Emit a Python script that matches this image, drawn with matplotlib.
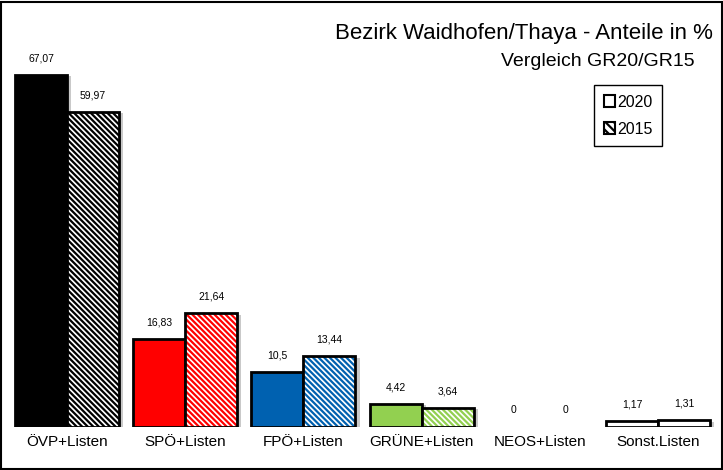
import matplotlib
matplotlib.use('Agg')
import matplotlib.pyplot as plt
import matplotlib.patheffects as pe
from matplotlib.patches import Rectangle, Patch
import numpy as np

plt.rcParams['font.family'] = ['Liberation Sans', 'DejaVu Sans']
plt.rcParams['hatch.linewidth'] = 1.6

# Data
parties = ['ÖVP+Listen', 'SPÖ+Listen', 'FPÖ+Listen', 'GRÜNE+Listen', 'NEOS+Listen', 'Sonst.Listen']
gr20 = [67.07, 16.83, 10.5, 4.42, 0, 1.17]
gr15 = [59.97, 21.64, 13.44, 3.64, 0, 1.31]
labels20 = ['67,07', '16,83', '10,5', '4,42', '0', '1,17']
labels15 = ['59,97', '21,64', '13,44', '3,64', '0', '1,31']
colors = ['#000000', '#ff0000', '#0061b0', '#92d050', '#ffffff', '#ffffff']

W, H = 723, 470
fig = plt.figure(figsize=(W / 100, H / 100), dpi=100)
ax = fig.add_axes([8 / W, 1 - 427 / H, 709 / W, 394 / H])

x = np.arange(len(parties))
width = 0.44
shadow = [pe.SimplePatchShadow(offset=(3, -1), shadow_rgbFace='#888888', alpha=0.45), pe.Normal()]

for i in range(len(parties)):
    lw20 = 2 if gr20[i] > 0 else 0
    lw15 = 2 if gr15[i] > 0 else 0
    # 2020: solid
    ax.bar(x[i] - width / 2, gr20[i], width, color=colors[i], edgecolor='black',
           linewidth=lw20, path_effects=shadow if gr20[i] > 0 else None, zorder=2)
    # 2015: hatched (stripes in party colour on white)
    if gr15[i] > 0:
        ax.bar(x[i] + width / 2, gr15[i], width, color='white', linewidth=0,
               path_effects=shadow, zorder=1.5)
    ax.bar(x[i] + width / 2, gr15[i], width, color='white', edgecolor=colors[i],
           linewidth=0, hatch='\\\\\\\\\\\\', zorder=2)
    ax.bar(x[i] + width / 2, gr15[i], width, fill=False, edgecolor='black',
           linewidth=lw15, zorder=3)
    ax.text(x[i] - width / 2, gr20[i] + 2.2, labels20[i], ha='center', va='bottom', fontsize=7.5)
    ax.text(x[i] + width / 2, gr15[i] + 2.2, labels15[i], ha='center', va='bottom', fontsize=7.5)

ax.set_xlim(-0.5, len(parties) - 0.5)
ax.set_ylim(0, 75)
ax.set_xticks(x)
ax.set_xticklabels(parties, fontsize=11)
ax.tick_params(axis='x', length=0, pad=6)
ax.set_yticks([])
for s in ax.spines.values():
    s.set_visible(False)

fig.text(713 / W, 1 - 33 / H, 'Bezirk Waidhofen/Thaya - Anteile in %', ha='right', va='center', fontsize=16)
fig.text(695 / W, 1 - 61 / H, 'Vergleich GR20/GR15', ha='right', va='center', fontsize=14)

handles = [Patch(facecolor='white', edgecolor='black', linewidth=1.5, label='2020'),
           Patch(facecolor='white', edgecolor='black', linewidth=1.5, hatch='\\\\\\\\', label='2015')]
leg = fig.legend(handles=handles, loc='upper left', bbox_to_anchor=(586 / W, 1 - 77 / H),
                 fontsize=11.5, handlelength=0.7, handleheight=0.7, handletextpad=0.15,
                 labelspacing=0.75, borderpad=0.6, fancybox=False, framealpha=1)
leg.get_frame().set_edgecolor('black')
leg.get_frame().set_linewidth(1)

fig.add_artist(Rectangle((1 / W, 1 / H), 1 - 2.5 / W, 1 - 2.5 / H, transform=fig.transFigure,
                         fill=False, edgecolor='black', linewidth=1.5))

fig.savefig('out.png', dpi=100)
